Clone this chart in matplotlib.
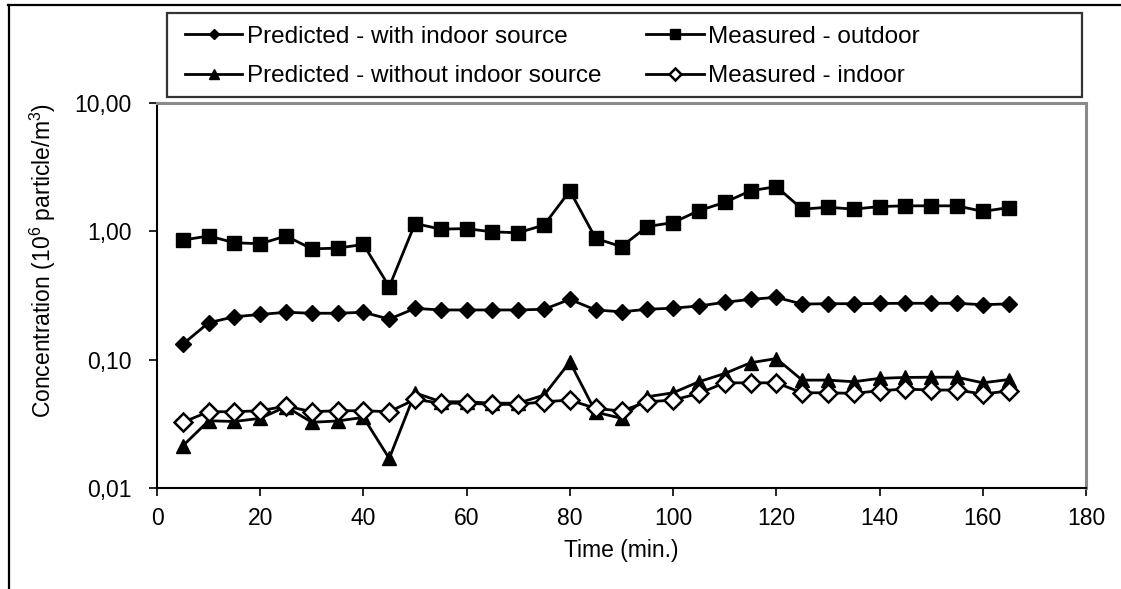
import matplotlib
matplotlib.use("Agg")
import matplotlib.pyplot as plt
from matplotlib.lines import Line2D
from matplotlib.patches import Rectangle

plt.rcParams['font.family'] = ['Liberation Sans', 'DejaVu Sans']
plt.rcParams['mathtext.fontset'] = 'custom'
plt.rcParams['mathtext.rm'] = 'Liberation Sans'
plt.rcParams['mathtext.it'] = 'Liberation Sans'
plt.rcParams['mathtext.bf'] = 'Liberation Sans:bold'

time = [5, 10, 15, 20, 25, 30, 35, 40, 45, 50, 55, 60, 65, 70, 75, 80, 85,
        90, 95, 100, 105, 110, 115, 120, 125, 130, 135, 140, 145, 150, 155, 160, 165]

pred_with = [0.132, 0.194, 0.216, 0.225, 0.234, 0.230, 0.230, 0.234, 0.207, 0.251,
             0.244, 0.244, 0.244, 0.244, 0.247, 0.295, 0.244, 0.236, 0.247, 0.252,
             0.262, 0.280, 0.295, 0.306, 0.271, 0.273, 0.273, 0.274, 0.275, 0.275,
             0.275, 0.268, 0.272]

meas_out = [0.855, 0.92, 0.815, 0.80, 0.92, 0.73, 0.74, 0.79, 0.37, 1.15,
            1.04, 1.05, 0.99, 0.975, 1.12, 2.07, 0.88, 0.76, 1.09, 1.17,
            1.45, 1.68, 2.07, 2.23, 1.49, 1.54, 1.49, 1.56, 1.58, 1.58,
            1.58, 1.43, 1.53]

pred_without = [0.0213, 0.0334, 0.0330, 0.0349, 0.0430, 0.0325, 0.0333, 0.0355, 0.0170, 0.0552,
                0.0470, 0.0470, 0.0458, 0.0458, 0.0530, 0.0960, 0.0390, 0.0349, 0.0514, 0.0552,
                0.0673, 0.0780, 0.0946, 0.1020, 0.0693, 0.0693, 0.0673, 0.0715, 0.0727, 0.0730,
                0.0730, 0.0660, 0.0700]

meas_in = [0.0325, 0.0393, 0.0393, 0.0400, 0.0435, 0.0393, 0.0400, 0.0400, 0.0393, 0.0490,
           0.0458, 0.0458, 0.0448, 0.0448, 0.0470, 0.0484, 0.0417, 0.0398, 0.0470, 0.0484,
           0.0546, 0.0660, 0.0660, 0.0660, 0.0552, 0.0552, 0.0546, 0.0573, 0.0590, 0.0580,
           0.0580, 0.0540, 0.0570]

xticks = [0, 20, 40, 60, 80, 100, 120, 140, 160, 180]
yticks = [0.01, 0.1, 1, 10]
ytick_labels = ["0,01", "0,10", "1,00", "10,00"]

labels = ["Predicted - with indoor source", "Predicted - without indoor source",
          "Measured - outdoor", "Measured - indoor"]

W, H = 1121, 589
fig = plt.figure(figsize=(W / 100, H / 100), dpi=100)
ax = fig.add_axes([157 / W, 1 - 488 / H, (1086 - 157) / W, (488 - 103) / H])

lw = 2.0
h1, = ax.plot(time, pred_with, color='black', lw=lw, marker='D', ms=8.5,
              mfc='black', mec='black', label=labels[0], zorder=3)
h2, = ax.plot(time, pred_without, color='black', lw=lw, marker='^', ms=10,
              mfc='black', mec='black', label=labels[1], zorder=3)
h3, = ax.plot(time, meas_out, color='black', lw=lw, marker='s', ms=10,
              mfc='black', mec='black', label=labels[2], zorder=3)
h4, = ax.plot(time, meas_in, color='black', lw=lw, marker='D', ms=9,
              mfc='white', mec='black', mew=1.8, label=labels[3], zorder=4)

ax.set_yscale('log')
ax.set_ylim(0.01, 10)
ax.set_xlim(0, 180)
ax.set_xticks(xticks)
ax.set_xticklabels([str(v) for v in xticks])
ax.set_yticks(yticks)
ax.set_yticklabels(ytick_labels)
ax.yaxis.set_minor_locator(matplotlib.ticker.NullLocator())

ax.tick_params(axis='both', direction='out', length=6, width=1.2, labelsize=16.5, colors='black')
ax.tick_params(axis='y', pad=12)
ax.tick_params(axis='x', pad=8)

for s in ['left', 'bottom']:
    ax.spines[s].set_color('black')
    ax.spines[s].set_linewidth(1.5)
for s in ['top', 'right']:
    ax.spines[s].set_color('#8a8a8a')
    ax.spines[s].set_linewidth(2.2)

ax.set_xlabel("Time (min.)", fontsize=16.5, labelpad=6)
fig.text(43 / W, 1 - 260 / H, r"Concentration (10$^{6}$ particle/m$^{3}$)", rotation=90,
         ha='center', va='center', fontsize=16.5)

# legend frame
fig.add_artist(Rectangle((167 / W, 1 - 97 / H), (1082 - 167) / W, (97 - 13) / H,
                         transform=fig.transFigure, facecolor='white',
                         edgecolor='#333333', lw=1.6, zorder=1))

leg = fig.legend(handles=[h1, h2, h3, h4], ncol=2, loc='center left',
                 bbox_to_anchor=(185 / W, 1 - 56.5 / H),
                 fontsize=17.5, frameon=False,
                 handlelength=2.35, handletextpad=0.2, markerscale=0.65,
                 borderaxespad=0, borderpad=0, labelspacing=0.72, columnspacing=1.85)
leg.set_zorder(2)

# outer frame lines
fig.add_artist(Line2D([8 / W, 1.0], [1 - 5 / H, 1 - 5 / H], transform=fig.transFigure,
                      color='black', lw=1.6))
fig.add_artist(Line2D([9 / W, 9 / W], [1 - 5 / H, 0], transform=fig.transFigure,
                      color='black', lw=1.6))

fig.savefig("out.png", dpi=100)
